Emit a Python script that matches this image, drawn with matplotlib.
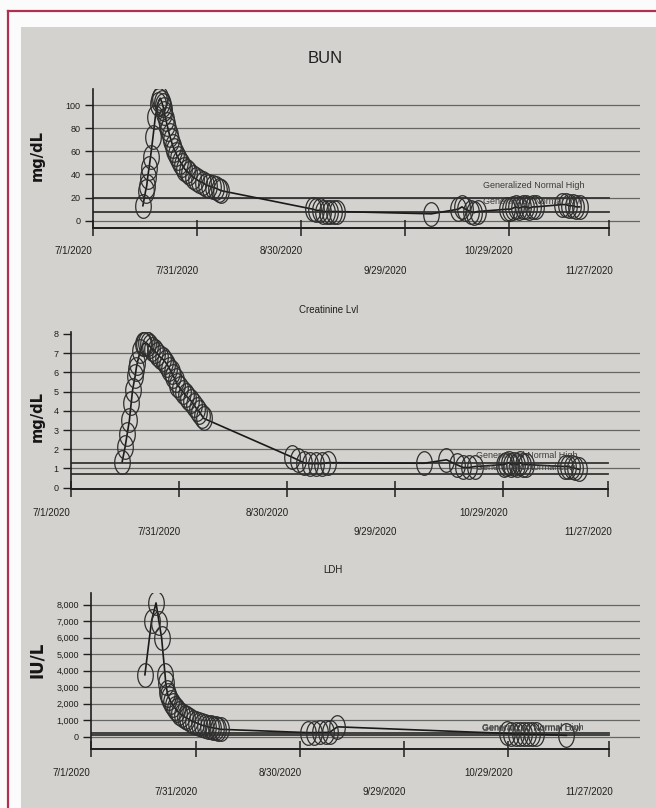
import numpy as np
import pandas as pd
import matplotlib
matplotlib.use('Agg')
import matplotlib.pyplot as plt
import matplotlib.dates as mdates
from matplotlib.path import Path
from matplotlib.patches import Rectangle
from matplotlib.lines import Line2D
from matplotlib.transforms import ScaledTranslation

plt.rcParams['font.family'] = ['Liberation Sans', 'DejaVu Sans']

start = pd.Timestamp('2020-07-01')

# days since 7/1/2020
bun_day = [14.4, 15.2, 15.5, 15.8, 16.2, 16.6, 17.3, 18.0, 18.7, 19.0, 19.4, 19.8, 20.1,
           20.4, 20.6, 21.0, 21.3, 21.7, 22.1, 22.5, 23.0, 23.5,
           24.0, 24.6, 25.2, 25.8, 26.4, 27.0, 27.8, 28.8, 29.8, 30.7, 31.7, 32.6, 33.6,
           34.6, 35.6, 36.3, 37.0,
           63.5, 64.5, 65.5, 66.5, 67.5, 68.5, 69.5, 70.5,
           97.7, 105.4, 106.5, 107.5, 109.0, 110.0, 111.0,
           119.6, 120.5, 121.3, 122.0, 123.0, 124.0, 125.0, 126.0, 127.0, 127.8,
           135.5, 136.5, 137.5, 138.5, 139.5, 140.5]
bun_val = [13, 26, 30, 38, 46, 55, 72, 90, 101, 104, 106, 103, 100,
           97, 93, 88, 84, 79, 74, 70, 65, 61,
           58, 54, 51, 48, 45, 43, 41, 38, 36, 34, 33, 31, 30,
           29, 28, 27, 26,
           10, 9, 9, 8, 8, 8, 8, 8,
           6, 10, 12, 10, 8, 7, 8,
           10, 10, 11, 12, 11, 12, 12, 11, 12, 12,
           14, 14, 13, 13, 12, 12]
bun_high, bun_low = 20, 8

cre_day = [14.2, 15.0, 15.6, 16.2, 16.7, 17.1, 17.8, 18.1, 18.4, 19.2, 19.9, 20.3, 20.8,
           21.4, 21.9, 22.6, 23.3, 24.0, 24.7, 25.4, 26.1, 26.7, 27.3, 27.9, 28.4, 29.0,
           29.5, 30.2, 31.0, 31.8, 32.6, 33.4, 34.1, 34.9, 35.6, 36.3, 36.9,
           61.2, 62.9, 64.6, 66.3, 68.0, 69.7, 71.4,
           98.0, 104.2, 107.0, 108.8, 110.5, 112.1,
           120.1, 120.8, 121.5, 122.2, 123.0, 123.8, 124.6, 125.4, 126.3,
           137.1, 138.0, 139.0, 140.0, 141.0]
cre_val = [1.35, 2.1, 2.8, 3.5, 4.4, 5.1, 5.8, 6.2, 6.5, 7.1, 7.45, 7.5, 7.55,
           7.45, 7.35, 7.2, 7.1, 6.95, 6.8, 6.7, 6.55, 6.4, 6.2, 6.0, 5.8, 5.6,
           5.35, 5.2, 5.0, 4.8, 4.65, 4.5, 4.3, 4.1, 3.95, 3.75, 3.6,
           1.6, 1.45, 1.3, 1.25, 1.25, 1.25, 1.3,
           1.27, 1.45, 1.2, 1.05, 1.05, 1.1,
           1.2, 1.25, 1.3, 1.2, 1.25, 1.2, 1.3, 1.2, 1.2,
           1.1, 1.1, 1.05, 1.0, 0.95]
cre_high, cre_low = 1.3, 0.7

ldh_day = [15.4, 17.3, 18.6, 19.5, 20.2, 21.2, 21.4, 21.8, 22.0, 22.4, 22.9, 23.4, 24.0,
           24.5, 25.2, 26.0, 26.8, 27.6, 28.4, 29.3, 30.1, 31.0, 31.8, 32.7, 33.5, 34.3,
           35.0, 35.8, 36.5, 37.2,
           62.2, 64.0, 65.7, 67.5, 68.6, 70.8,
           119.7, 120.9, 122.1, 123.3, 124.5, 125.7, 126.9, 127.9,
           136.7]
ldh_val = [3750, 7000, 8100, 6900, 6000, 3750, 3240, 2730, 2500, 2330, 2100, 1930, 1750,
           1620, 1450, 1320, 1200, 1120, 1000, 910, 850, 770, 700, 650, 600, 570,
           540, 510, 480, 450,
           250, 250, 260, 260, 270, 600,
           200, 180, 150, 170, 160, 150, 140, 150,
           80]
ldh_high, ldh_low = 225, 100

major_dates = ['2020-07-01', '2020-08-30', '2020-10-29']
minor_dates = ['2020-07-31', '2020-09-29', '2020-11-27']

theta = np.linspace(0, 2 * np.pi, 64)
ellipse = Path(np.column_stack([0.66 * np.cos(theta), np.sin(theta)]), closed=True)

fig = plt.figure(figsize=(6.56, 8.08), dpi=100, facecolor='#fcfbfb')
fig.patches.append(Rectangle((21 / 656, 0), 1 - 21 / 656, 1 - 27 / 808,
                             transform=fig.transFigure, facecolor='#d3d2ce',
                             edgecolor='none', zorder=-5))
fig.lines.append(Line2D([8 / 656, 1], [1 - 11 / 808] * 2, transform=fig.transFigure,
                        color='#b0304f', lw=1.6, zorder=-4))
fig.lines.append(Line2D([8 / 656] * 2, [0, 1 - 11 / 808], transform=fig.transFigure,
                        color='#b0304f', lw=1.6, zorder=-4))

ink = '#1f1f1f'
end = start + pd.Timedelta(days=157.9)
axis_end = pd.Timestamp('2020-11-27')


def panel(rect, days, vals, high, low, ylim, yticks, ylabels, grid, title, title_size,
          title_xy, unit, unit_xy, unit_size, note_offset):
    ax = fig.add_axes(rect)
    ax.patch.set_alpha(0)
    x = start + pd.to_timedelta(days, unit='D')
    for g in grid:
        ax.axhline(g, color='#666664', lw=0.9, zorder=1)
    for lvl in (high, low):
        ax.plot([start, axis_end], [lvl, lvl], color='#353535', lw=1.3, zorder=2)
    ax.plot(x, vals, color='#1a1a1a', lw=1.2, zorder=3)
    ax.plot(x, vals, linestyle='none', marker=ellipse, markersize=17,
            markerfacecolor='none', markeredgecolor='#2e2e2e', markeredgewidth=0.9, zorder=4)
    note_x = start + pd.Timedelta(days=112.5)
    ax.annotate('Generalized Normal High', (note_x, high), xytext=(0, note_offset[0]),
                textcoords='offset points', fontsize=6.5, color='#3c3c3c', va='center', zorder=5)
    ax.annotate('Generalized Normal Low', (note_x, low), xytext=(0, note_offset[1]),
                textcoords='offset points', fontsize=6.5, color='#3c3c3c', va='center', zorder=5)

    ax.set_xlim(start, end)
    ax.set_ylim(*ylim)
    ax.set_yticks(yticks)
    ax.set_yticklabels(ylabels, fontsize=6.5, color=ink)
    ax.tick_params(axis='y', direction='out', length=6, width=1, pad=3, colors=ink)

    ax.set_xticks(pd.to_datetime(major_dates))
    ax.set_xticks(pd.to_datetime(minor_dates), minor=True)
    ax.xaxis.set_major_formatter(mdates.DateFormatter('%-m/%-d/%Y'))
    ax.xaxis.set_minor_formatter(mdates.DateFormatter('%-m/%-d/%Y'))
    ax.tick_params(axis='x', which='both', direction='inout', length=11, width=1.1,
                   colors=ink, labelsize=7)
    ax.tick_params(axis='x', which='major', pad=8)
    ax.tick_params(axis='x', which='minor', pad=22)
    shift = ScaledTranslation(-0.2, 0, fig.dpi_scale_trans)
    for lab in ax.get_xticklabels() + ax.get_xticklabels(minor=True):
        lab.set_transform(lab.get_transform() + shift)

    for s in ('top', 'right'):
        ax.spines[s].set_visible(False)
    ax.spines['left'].set_color(ink)
    ax.spines['bottom'].set_color(ink)
    ax.spines['left'].set_linewidth(1.2)
    ax.spines['bottom'].set_linewidth(1.4)
    ax.spines['bottom'].set_bounds(mdates.date2num(start), mdates.date2num(axis_end))

    ax.text(title_xy[0], title_xy[1], title, transform=ax.transAxes, ha='center',
            va='center', color=ink, fontsize=title_size)
    ax.text(unit_xy[0], unit_xy[1], unit, transform=ax.transAxes, rotation=90,
            ha='center', va='center', color='#151515', fontsize=unit_size,
            fontweight='bold', family='DejaVu Sans')
    return ax


# BUN
panel([93 / 656, 1 - 227.7 / 808, 547 / 656, 138.8 / 808],
      bun_day, bun_val, bun_high, bun_low, (-6, 114),
      [0, 20, 40, 60, 80, 100], ['0', '20', '40', '60', '80', '100'],
      [0, 20, 40, 60, 80, 100], 'BUN', 12, (0.424, 1.22),
      'mg/dL', (-0.102, 0.52), 10.5, (8.5, 7.5))

# Creatinine
panel([71 / 656, 1 - 489 / 808, 569 / 656, 157 / 808],
      cre_day, cre_val, cre_high, cre_low, (-0.07, 8.1),
      list(range(9)), [str(i) for i in range(9)],
      [1, 2, 3, 4, 5, 6, 7], 'Creatinine Lvl', 7, (0.452, 1.14),
      'mg/dL', (-0.059, 0.46), 10.5, (5, 5))

# LDH
panel([91.4 / 656, 1 - 749.3 / 808, 548.6 / 656, 156.3 / 808],
      ldh_day, ldh_val, ldh_high, ldh_low, (-760, 8700),
      list(range(0, 8001, 1000)), ['0'] + [f'{v:,}' for v in range(1000, 8001, 1000)],
      list(range(0, 8001, 1000)), 'LDH', 7, (0.441, 1.15),
      'IU/L', (-0.099, 0.57), 12, (4, 5))

fig.savefig('out.png', dpi=100, facecolor=fig.get_facecolor())
